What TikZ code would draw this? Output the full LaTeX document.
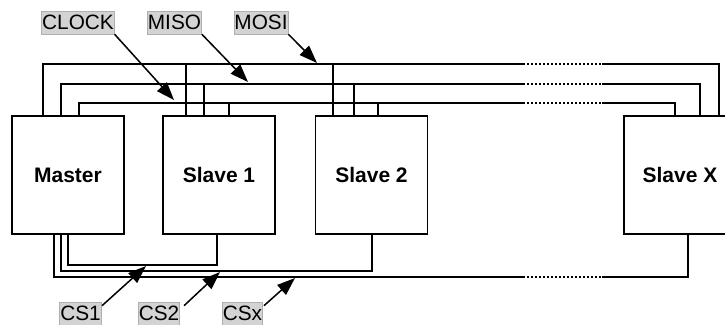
\documentclass[tikz,border=0pt]{standalone}
\usepackage{fontspec}
\setmainfont{Liberation Sans}
\usetikzlibrary{arrows.meta,calc}
\definecolor{tagfill}{RGB}{211,211,211}
\definecolor{tagline}{RGB}{175,175,175}
\begin{document}
\begin{tikzpicture}[x=1pt,y=-1pt,
  line width=1.3pt,
  unit/.style={draw, minimum width=112pt, minimum height=118pt, inner sep=0pt,
    font=\fontsize{21}{24}\selectfont\bfseries},
  tag/.style={fill=tagfill, draw=tagline, line width=0.6pt, inner xsep=0.5pt, inner ysep=0pt,
    text height=18.6pt, text depth=4.4pt, font=\fontsize{20.8}{24}\selectfont},
  pointer/.style={line width=1.5pt, -{Triangle[length=18pt,width=13pt]}},
  gap/.style={dash pattern=on 1.6pt off 2.4pt}
]
\clip (0,0) rectangle (725,324);
\fill[white] (0,0) rectangle (725,324);

% units
\node[unit] (master) at (68,175) {Master};
\node[unit] (s1) at (219,175) {Slave 1};
\node[unit] (s2) at (371.5,175) {Slave 2};
\node[unit] (sx) at (680,175) {Slave X};

% tap points on the top of the units
\coordinate (m1) at (43,116);  \coordinate (m2) at (61,116);  \coordinate (m3) at (79,116);
\coordinate (a1) at (186,116); \coordinate (a2) at (204,116); \coordinate (a3) at (229,116);
\coordinate (b1) at (333,116); \coordinate (b2) at (354,116); \coordinate (b3) at (378,116);
\coordinate (x1) at (719,116); \coordinate (x2) at (700,116); \coordinate (x3) at (675,116);

% MOSI bus (y=64)
\draw (m1) |- (523,64) coordinate (l1a);
\draw[gap] (l1a) -- (602,64) coordinate (l1b);
\draw (l1b) -| (x1);
\draw (a1) -- (a1 |- l1a);
\draw (b1) -- (b1 |- l1a);
% MISO bus (y=84)
\draw (m2) |- (523,84) coordinate (l2a);
\draw[gap] (l2a) -- (602,84) coordinate (l2b);
\draw (l2b) -| (x2);
\draw (a2) -- (a2 |- l2a);
\draw (b2) -- (b2 |- l2a);
% CLOCK bus (y=103)
\draw (m3) |- (523,103) coordinate (l3a);
\draw[gap] (l3a) -- (602,103) coordinate (l3b);
\draw (l3b) -| (x3);
\draw (a3) -- (a3 |- l3a);
\draw (b3) -- (b3 |- l3a);

% chip selects
\coordinate (c1) at (68,234);  \coordinate (c2) at (61,234);  \coordinate (c3) at (54,234);
\coordinate (d1) at (217,234); \coordinate (d2) at (372,234); \coordinate (d3) at (688,234);
\draw (c1) |- (d1 |- 0,265) -- (d1);
\draw (c2) |- (d2 |- 0,271) -- (d2);
\draw (c3) |- (523,277) coordinate (l4a);
\draw[gap] (l4a) -- (602,277) coordinate (l4b);
\draw (l4b) -| (d3);

% labels
\node[tag] (clk) at (78,22.5) {CLOCK};
\node[tag] (miso) at (174.5,22.5) {MISO};
\node[tag] (mosi) at (261,22.5) {MOSI};
\node[tag] (cs1) at (80.5,313.5) {CS1};
\node[tag] (cs2) at (159,313.5) {CS2};
\node[tag] (csx) at (242.5,313.5) {CSx};

\coordinate (tclk) at (174,100);
\coordinate (tmiso) at (248,82);
\coordinate (tmosi) at (317,63);
\coordinate (tcs1) at (146,266);
\coordinate (tcs2) at (220,272);
\coordinate (tcsx) at (295,278);

\draw[pointer] (clk.south east) -- (tclk);
\draw[pointer] (miso.south east) -- (tmiso);
\draw[pointer] (mosi.south east) -- (tmosi);
\draw[pointer] ($(cs1.north east)+(0.5,4)$) -- (tcs1);
\draw[pointer] ($(cs2.north east)+(4,4)$) -- (tcs2);
\draw[pointer] ($(csx.north east)+(1,4)$) -- (tcsx);
\end{tikzpicture}
\end{document}
